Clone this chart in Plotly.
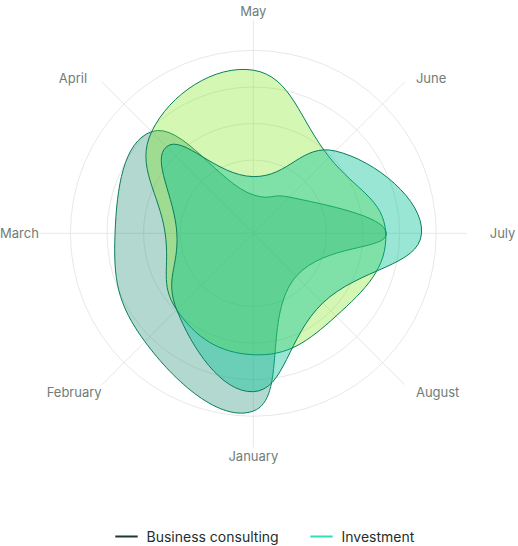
import plotly.graph_objects as go

months = ["January", "February", "March", "April", "May", "June", "July", "August"]
# label padding so the texts sit where the reference puts them
month_labels = ["January", "February", "March", "April\u00a0\u00a0\u00a0\u00a0", "May",
                "\u00a0\u00a0\u00a0June", "\u00a0\u00a0\u00a0\u00a0\u00a0\u00a0July",
                "\u00a0\u00a0\u00a0August"]

business_consulting = [4.86, 4.19, 3.78, 3.93, 1.05, 1.40, 3.64, 1.66]
investment = [4.33, 2.96, 2.09, 3.35, 1.55, 3.18, 4.60, 2.69]
third_series = [3.32, 2.96, 2.41, 3.93, 4.46, 2.94, 3.62, 3.20]

grid_ticks = [2, 3, 4, 5]
radial_max = 5.85

outline = "#0b7d5a"
smooth = 1.3


def closed(vals):
    return list(vals) + [vals[0]]


fig = go.Figure()

fig.add_trace(go.Scatterpolar(
    r=closed(business_consulting), theta=closed(months), mode="lines",
    line=dict(color=outline, width=1, shape="spline", smoothing=smooth),
    fill="toself", fillcolor="rgba(38,144,118,0.35)",
    showlegend=False, hoverinfo="skip", name="Business consulting"))

fig.add_trace(go.Scatterpolar(
    r=closed(third_series), theta=closed(months), mode="lines",
    line=dict(color=outline, width=1, shape="spline", smoothing=smooth),
    fill="toself", fillcolor="rgba(112,228,5,0.3)",
    showlegend=False, hoverinfo="skip", name="Series 3"))

fig.add_trace(go.Scatterpolar(
    r=closed(investment), theta=closed(months), mode="lines",
    line=dict(color=outline, width=1, shape="spline", smoothing=smooth),
    fill="toself", fillcolor="rgba(0,193,148,0.4)",
    showlegend=False, hoverinfo="skip", name="Investment"))

# legend entries
fig.add_trace(go.Scatterpolar(r=[None], theta=[months[0]], mode="markers",
                              marker=dict(symbol="line-ew", size=16,
                                          line=dict(color="#1b3a34", width=2)),
                              name="Business consulting"))
fig.add_trace(go.Scatterpolar(r=[None], theta=[months[0]], mode="markers",
                              marker=dict(symbol="line-ew", size=16,
                                          line=dict(color="#2fe0b4", width=2)),
                              name="Investment"))

W, H = 518, 546

fig.update_layout(
    width=W, height=H,
    margin=dict(l=0, r=0, t=0, b=0, autoexpand=False),
    paper_bgcolor="white", plot_bgcolor="white",
    font=dict(family="Inter, Roboto, sans-serif"),
    polar=dict(
        domain=dict(x=[0.0759, 0.9021], y=[0.1808, 0.9646]),
        bgcolor="white",
        angularaxis=dict(
            categoryorder="array", categoryarray=months,
            tickmode="array", tickvals=months, ticktext=month_labels,
            rotation=270, direction="clockwise",
            showline=False, gridcolor="#e8e8e8", gridwidth=1,
            ticks="", tickfont=dict(size=13, color="#6e7d7a"),
        ),
        radialaxis=dict(
            range=[0, radial_max], tickvals=grid_ticks,
            showticklabels=False, ticks="", showline=False,
            gridcolor="#e8e8e8", gridwidth=1,
        ),
    ),
    legend=dict(
        orientation="h", x=0.2056, xanchor="left", y=0.0165, yanchor="middle",
        font=dict(size=14, color="#1e2f2b"), itemwidth=30,
        entrywidth=150,
    ),
)

fig.write_html("out.html", config={"displayModeBar": False},
               post_script="document.body.style.margin='0px';")
